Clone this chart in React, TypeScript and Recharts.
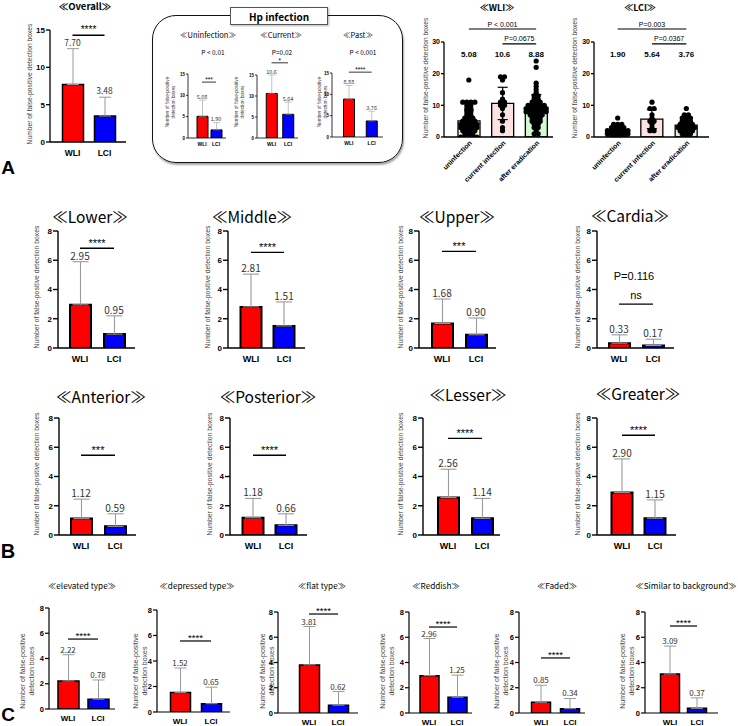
import React from 'react';
import {
  BarChart, ComposedChart, Bar, Scatter, XAxis, YAxis, ErrorBar, Cell, ReferenceLine, ReferenceDot,
} from 'recharts';

const SANS = '"Liberation Sans", Arial, sans-serif';
const CJK = '"Noto Sans CJK SC", "Noto Sans", sans-serif';

// ---------- data ----------
const ARMS = ['WLI', 'LCI'];
const ARM_FILLS = ['#ff0000', '#0000ff'];

const OVERALL_MEAN = [7.7, 3.48];
const OVERALL_SD = [4.8, 2.52];
const OVERALL_SIG = '****';

const HP_TITLES = ['Uninfection', 'Current', 'Past'];
const HP_P = ['P < 0.01', 'P=0.02', 'P < 0.001'];
const HP_SIG = ['***', '*', '****'];
const HP_WLI = [5.08, 10.6, 8.88];
const HP_LCI = [1.9, 5.64, 3.76];
const HP_WLI_SD = [3.8, 4.4, 3.2];
const HP_LCI_SD = [1.7, 2.9, 2.3];

const HP_STATUS = ['uninfection', 'current infection', 'after eradication'];
const STATUS_FILLS = ['#fdf8d2', '#fde2e2', '#d2f8cf'];

const WLI_STATUS_MEAN = [5.08, 10.6, 8.88];
const WLI_STATUS_SD = [3.4, 5.1, 4.5];
const WLI_UNINF = [18, 11, 11, 11, 11, 10, 10, 9, 9, 8, 8, 7, 7, 6, 6, 6, 5, 5, 5, 5, 4, 4, 4, 4, 4, 3, 3, 3, 3, 3, 2, 2, 2, 2, 1, 1, 1, 0, 0, 0, 0, 0];
const WLI_CURR = [19, 19, 18, 14, 12, 11, 11, 10, 10, 9, 7, 5, 3, 2];
const WLI_ERAD = [24, 22, 17, 16, 15, 14, 13, 13, 12, 12, 11, 11, 11, 10, 10, 10, 10, 10, 9, 9, 9, 9, 9, 9, 8, 8, 8, 8, 8, 8, 7, 7, 7, 7, 6, 6, 6, 5, 5, 5, 4, 4, 3, 3, 2, 1, 1];
const WLI_P = ['P < 0.001', 'P=0.0675'];

const LCI_STATUS_MEAN = [1.9, 5.64, 3.76];
const LCI_STATUS_SD = [1.8, 3.0, 2.4];
const LCI_UNINF = [6, 4, 4, 4, 3, 3, 3, 3, 2, 2, 2, 2, 2, 2, 1, 1, 1, 1, 1, 1, 0, 0, 0, 0];
const LCI_CURR = [11, 9, 9, 7, 6, 5, 5, 4, 3, 2, 2];
const LCI_ERAD = [9, 7, 7, 6, 6, 6, 5, 5, 5, 4, 4, 4, 4, 3, 3, 3, 3, 3, 2, 2, 2, 2, 1, 1, 1, 0, 0];
const LCI_P = ['P=0.003', 'P=0.0367'];

const REGIONS = ['Lower', 'Middle', 'Upper', 'Cardia', 'Anterior', 'Posterior', 'Lesser', 'Greater'];
const REGION_WLI = [2.95, 2.81, 1.68, 0.33, 1.12, 1.18, 2.56, 2.9];
const REGION_LCI = [0.95, 1.51, 0.9, 0.17, 0.59, 0.66, 1.14, 1.15];
const REGION_WLI_SD = [2.95, 2.24, 1.67, 0.57, 1.33, 1.32, 1.94, 2.3];
const REGION_LCI_SD = [1.25, 1.64, 1.15, 0.43, 0.86, 0.79, 1.36, 1.25];
const REGION_SIG = ['****', '****', '***', 'ns', '***', '****', '****', '****'];
const REGION_P = ['', '', '', 'P=0.116', '', '', '', ''];

const LESIONS = ['elevated type', 'depressed type', 'flat type', 'Reddish', 'Faded', 'Similar to background'];
const LESION_WLI = [2.22, 1.52, 3.81, 2.96, 0.85, 3.09];
const LESION_LCI = [0.78, 0.65, 0.62, 1.25, 0.34, 0.37];
const LESION_WLI_SD = [2.08, 1.93, 3.04, 2.94, 1.35, 2.21];
const LESION_LCI_SD = [1.52, 1.3, 1.08, 1.75, 0.81, 0.83];
const LESION_SIG = ['****', '****', '****', '****', '****', '****'];

const Y_TITLE = 'Number of false-positive detection boxes';
const Y_TITLE_2 = ['Number of false-positive', 'detection boxes'];

// ---------- layout ----------
type Frame = { ax: number; y0: number; top: number; end: number; c: number[]; bw: number };

const OVERALL_FRAME: Frame = { ax: 50, y0: 142, top: 30, end: 126, c: [72.5, 104.5], bw: 21 };
const HP_FRAMES: Frame[] = [
  { ax: 188, y0: 138, top: 74, end: 226, c: [202, 216], bw: 11 },
  { ax: 257, y0: 138, top: 75, end: 298, c: [271.5, 288], bw: 11 },
  { ax: 332, y0: 137, top: 73, end: 383, c: [349, 372], bw: 11 },
];
const HP_SIG_AT = [13.1, 17.9, 15.2];
const HP_TITLE_X = [208, 281, 358];
const HP_P_X = [213, 282, 363];
const HP_YLABEL_X = [170.5, 239.5, 322.5];

const WLI_FRAME: Frame = { ax: 444, y0: 137, top: 42, end: 553, c: [469, 503, 537], bw: 22 };
const LCI_FRAME: Frame = { ax: 594, y0: 137, top: 42, end: 709, c: [618, 653, 686], bw: 22 };

const REGION_FRAMES: Frame[] = [
  { ax: 58, y0: 348, top: 231, end: 135, c: [80, 114], bw: 21 },
  { ax: 228, y0: 348, top: 231, end: 305, c: [251, 284], bw: 21 },
  { ax: 419, y0: 348, top: 231, end: 496, c: [442, 476], bw: 21 },
  { ax: 597, y0: 348, top: 231, end: 674, c: [619, 653], bw: 21 },
  { ax: 59, y0: 535, top: 418, end: 136, c: [81, 115], bw: 21 },
  { ax: 230, y0: 535, top: 418, end: 307, c: [253, 286], bw: 21 },
  { ax: 423, y0: 535, top: 418, end: 500, c: [448, 482], bw: 21 },
  { ax: 597, y0: 535, top: 418, end: 676, c: [622, 655], bw: 21 },
];
const REGION_SIG_AT = [6.82, 6.54, 6.61, 3.0, 5.45, 5.45, 6.61, 6.82];
const REGION_TITLE_AT = [[90, 217], [252, 217], [457, 217], [630, 216], [101, 397], [268, 397], [468, 395], [638, 394]];
const REGION_YLABEL_AT = [[37, 287], [208, 287], [401, 287], [578, 287], [37, 474], [210, 474], [401, 474], [578, 474]];

const LESION_FRAMES: Frame[] = [
  { ax: 49, y0: 709, top: 608, end: 115, c: [68, 98], bw: 21 },
  { ax: 157, y0: 712, top: 610, end: 230, c: [180, 211], bw: 20 },
  { ax: 278, y0: 713, top: 612, end: 358, c: [309, 338], bw: 20 },
  { ax: 409, y0: 713, top: 612, end: 472, c: [429, 457], bw: 19 },
  { ax: 519, y0: 713, top: 612, end: 585, c: [541, 570], bw: 19 },
  { ax: 645, y0: 713, top: 612, end: 718, c: [670, 697], bw: 19 },
];
const LESION_SIG_AT = [5.54, 5.57, 7.84, 6.81, 4.36, 6.89];
const LESION_TITLE_X = [82, 197, 322, 436, 557, 686];
const LESION_YLABEL_X = [26.5, 139.5, 267, 387, 501, 627];

const ST_A = { tick: 8, cat: 8.5, val: 8.5, star: 10, cap: 6, barStroke: 1.5, axisW: 1.3, tickSize: 4, tickMargin: 1, catGap: 8, valOffset: 3, starOffset: 2, nsOffset: 5, sigW: 1.3, errW: 1, xh: 18 };
const ST_HP = { tick: 4.5, cat: 5, val: 5.5, star: 6.5, cap: 3.5, barStroke: 1, axisW: 0.8, tickSize: 2, tickMargin: 1, catGap: 4, valOffset: 1.5, starOffset: 0, nsOffset: 3, sigW: 0.8, errW: 0.6, xh: 12 };
const ST_B = { tick: 8, cat: 9, val: 10, star: 11, cap: 8, barStroke: 2, axisW: 1.4, tickSize: 5, tickMargin: 1, catGap: 8, valOffset: 2, starOffset: 1.5, nsOffset: 5, sigW: 1.4, errW: 1.1, xh: 20 };
const ST_C = { tick: 7.5, cat: 8, val: 8, star: 9.5, cap: 6, barStroke: 1.5, axisW: 1.2, tickSize: 4, tickMargin: 1, catGap: 6, valOffset: 2, starOffset: 0, nsOffset: 4, sigW: 1.2, errW: 1, xh: 18 };

const fmt = (v: number) => (v >= 10 ? v.toFixed(1) : v.toFixed(2));

// spread equal values side by side, like a column scatter
function swarm(values: number[], g: number, step: number) {
  const count: Record<number, number> = {};
  const seen: Record<number, number> = {};
  values.forEach((v) => { count[v] = (count[v] || 0) + 1; });
  return values.map((v) => {
    const k = (seen[v] = (seen[v] ?? -1) + 1);
    return { x: g + 0.5 + (k - (count[v] - 1) / 2) * step, y: v };
  });
}

const Txt = ({ x, y, size, children, weight = 400, font = CJK, color = '#000' }: any) => (
  <div style={{ position: 'absolute', left: x, top: y, transform: 'translate(-50%,-50%)', fontSize: size, fontWeight: weight, fontFamily: font, color, whiteSpace: 'nowrap', lineHeight: 1 }}>
    {children}
  </div>
);

const VTxt = ({ x, y, size, lines }: any) => (
  <div style={{ position: 'absolute', left: x, top: y, transform: 'translate(-50%,-50%) rotate(-90deg)', fontSize: size, fontFamily: SANS, color: '#444', whiteSpace: 'nowrap', lineHeight: 1.3, textAlign: 'center' }}>
    {lines.map((l: string) => <div key={l}>{l}</div>)}
  </div>
);

function PairChart({ f, yMax, ticks, means, sds, sig, sigAt, st }: any) {
  const padL = 40, mt = 36, mr = 6;
  const band = f.c[1] - f.c[0];
  const pl = f.c[0] - band / 2 - f.ax;
  const pr = Math.max(0, f.end - (f.c[1] + band / 2));
  const width = padL + (f.end - f.ax) + mr;
  const height = mt + (f.y0 - f.top) + st.xh;
  const data = ARMS.map((name, i) => ({ name, mean: means[i], err: [0, sds[i]] }));
  const tickFont = { fill: '#000', fontSize: st.tick, fontWeight: 700, fontFamily: SANS };
  const axis = { stroke: '#000', strokeWidth: st.axisW };
  return (
    <div style={{ position: 'absolute', left: f.ax - padL, top: f.top - mt }}>
      <BarChart width={width} height={height} data={data} margin={{ top: mt, right: mr, bottom: 0, left: 0 }}>
        <XAxis dataKey="name" interval={0} padding={{ left: pl, right: pr }} height={st.xh} tickLine={false}
          tickSize={st.catGap} tickMargin={0} axisLine={axis} tick={{ ...tickFont, fontSize: st.cat }} />
        <YAxis width={padL} domain={[0, yMax]} ticks={ticks} interval={0} allowDataOverflow tickSize={st.tickSize}
          tickMargin={st.tickMargin} axisLine={axis} tickLine={axis} tick={tickFont} />
        <Bar dataKey="mean" barSize={f.bw} stroke="#000" strokeWidth={st.barStroke} isAnimationActive={false}>
          {data.map((d, i) => <Cell key={d.name} fill={ARM_FILLS[i]} />)}
          <ErrorBar dataKey="err" direction="y" width={st.cap} stroke="#9a9a9a" strokeWidth={st.errW} isAnimationActive={false} />
        </Bar>
        <ReferenceLine segment={[{ x: ARMS[0], y: sigAt }, { x: ARMS[1], y: sigAt }]} stroke="#000" strokeWidth={st.sigW} ifOverflow="visible"
          label={{ value: sig, position: 'top', offset: sig === 'ns' ? st.nsOffset : st.starOffset, fill: '#000', fontSize: st.star, fontFamily: SANS }} />
        {data.map((d, i) => (
          <ReferenceDot key={d.name} x={d.name} y={means[i] + sds[i]} r={0} fill="none" stroke="none" ifOverflow="visible"
            label={{ value: fmt(means[i]), position: 'top', offset: st.valOffset, fill: '#333', fontSize: st.val, fontFamily: CJK }} />
        ))}
      </BarChart>
    </div>
  );
}

const dot = (p: any) => <circle cx={p.cx} cy={p.cy} r={2.6} fill="#000" />;

function StatusChart({ f, means, sds, groups, pLabels }: any) {
  const svgTop = 14, svgBottom = 192, mr = 4, yW = 40;
  const band = f.c[1] - f.c[0];
  const pl = f.c[0] - band / 2 - f.ax;
  const pr = Math.max(0, f.end - (f.c[2] + band / 2));
  const data = HP_STATUS.map((name, i) => ({ name, mean: means[i], sd: sds[i] }));
  const pts = groups.flatMap((vals: number[], g: number) => swarm(vals, g, 0.12));
  const axis = { stroke: '#000', strokeWidth: 1.3 };
  const level = [34.1, 29.4];
  return (
    <div style={{ position: 'absolute', left: f.ax - yW - 12, top: svgTop }}>
      <ComposedChart width={f.end - f.ax + yW + 12 + mr} height={svgBottom - svgTop} data={data}
        margin={{ top: f.top - svgTop, right: mr, bottom: 0, left: 12 }}>
        <XAxis xAxisId="cat" dataKey="name" interval={0} padding={{ left: pl, right: pr }} height={svgBottom - f.y0}
          tickLine={false} tickSize={3} tickMargin={0} axisLine={axis}
          tick={{ angle: -45, textAnchor: 'end', fontSize: 7, fontWeight: 700, fill: '#000', fontFamily: SANS }} />
        <XAxis xAxisId="num" type="number" dataKey="x" domain={[0, 3]} allowDataOverflow padding={{ left: pl, right: pr }} hide />
        <YAxis width={yW} domain={[0, 30]} ticks={[0, 10, 20, 30]} interval={0} allowDataOverflow tickSize={3} tickMargin={1}
          axisLine={axis} tickLine={axis} tick={{ fill: '#000', fontSize: 7, fontWeight: 700, fontFamily: SANS }} />
        <Bar xAxisId="cat" dataKey="mean" barSize={f.bw} stroke="#000" strokeWidth={1.3} isAnimationActive={false}>
          {data.map((d, i) => <Cell key={d.name} fill={STATUS_FILLS[i]} />)}
          <ErrorBar dataKey="sd" direction="y" width={5} stroke="#000" strokeWidth={1.2} isAnimationActive={false} />
        </Bar>
        <Scatter xAxisId="num" data={pts} dataKey="y" shape={dot} isAnimationActive={false} />
        <ReferenceLine xAxisId="cat" segment={[{ x: HP_STATUS[0], y: level[0] }, { x: HP_STATUS[2], y: level[0] }]}
          stroke="#000" strokeWidth={1.2} ifOverflow="visible"
          label={{ value: pLabels[0], position: 'top', offset: 2.5, fill: '#000', fontSize: 7, fontFamily: SANS }} />
        <ReferenceLine xAxisId="cat" segment={[{ x: HP_STATUS[1], y: level[1] }, { x: HP_STATUS[2], y: level[1] }]}
          stroke="#000" strokeWidth={1.2} ifOverflow="visible"
          label={{ value: pLabels[1], position: 'top', offset: 2.5, fill: '#000', fontSize: 7, fontFamily: SANS }} />
        {data.map((d, i) => (
          <ReferenceDot key={d.name} xAxisId="cat" x={d.name} y={26.2} r={0} fill="none" stroke="none" ifOverflow="visible"
            label={{ value: fmt(means[i]), position: 'center', fill: '#000', fontSize: 8, fontWeight: 700, fontFamily: SANS }} />
        ))}
      </ComposedChart>
    </div>
  );
}

export default function App() {
  return (
    <div style={{ position: 'absolute', left: 0, top: 0, width: 738, height: 726, background: '#fff', overflow: 'hidden' }}>
      {/* A: overall */}
      <Txt x={85} y={7} size={9.5} weight={700}>≪Overall≫</Txt>
      <VTxt x={30} y={84} size={6.7} lines={[Y_TITLE]} />
      <PairChart f={OVERALL_FRAME} yMax={15} ticks={[0, 5, 10, 15]} means={OVERALL_MEAN} sds={OVERALL_SD}
        sig={OVERALL_SIG} sigAt={14.3} st={ST_A} />

      {/* A: Hp infection box */}
      <div style={{ position: 'absolute', left: 152, top: 15, width: 251, height: 148, border: '1.3px solid #111', borderRadius: 24, boxShadow: '1px 2px 2px rgba(0,0,0,0.35)', boxSizing: 'border-box' }} />
      <div style={{ position: 'absolute', left: 230, top: 7, width: 98, height: 18, background: '#fff', border: '1px solid #555', boxShadow: '1px 1px 2px rgba(0,0,0,0.3)', boxSizing: 'border-box', display: 'flex', alignItems: 'center', justifyContent: 'center', fontFamily: CJK, fontWeight: 700, fontSize: 10 }}>
        Hp infection
      </div>
      {HP_TITLES.map((t, i) => (
        <React.Fragment key={t}>
          <Txt x={HP_TITLE_X[i]} y={35} size={7.5}>≪{t}≫</Txt>
          <Txt x={HP_P_X[i]} y={52} size={6.5}>{HP_P[i]}</Txt>
          <VTxt x={HP_YLABEL_X[i]} y={102} size={4.7} lines={Y_TITLE_2} />
          <PairChart f={HP_FRAMES[i]} yMax={15} ticks={[0, 5, 10, 15]} means={[HP_WLI[i], HP_LCI[i]]}
            sds={[HP_WLI_SD[i], HP_LCI_SD[i]]} sig={HP_SIG[i]} sigAt={HP_SIG_AT[i]} st={ST_HP} />
        </React.Fragment>
      ))}

      {/* A: WLI / LCI by Hp status */}
      <Txt x={497} y={7} size={9} weight={700}>≪WLI≫</Txt>
      <VTxt x={426} y={78} size={6.7} lines={[Y_TITLE]} />
      <StatusChart f={WLI_FRAME} means={WLI_STATUS_MEAN} sds={WLI_STATUS_SD} groups={[WLI_UNINF, WLI_CURR, WLI_ERAD]} pLabels={WLI_P} />
      <Txt x={640} y={7} size={9} weight={700}>≪LCI≫</Txt>
      <VTxt x={575} y={78} size={6.7} lines={[Y_TITLE]} />
      <StatusChart f={LCI_FRAME} means={LCI_STATUS_MEAN} sds={LCI_STATUS_SD} groups={[LCI_UNINF, LCI_CURR, LCI_ERAD]} pLabels={LCI_P} />
      <Txt x={8} y={167} size={19} weight={700} font={SANS}>A</Txt>

      {/* B: regions */}
      {REGIONS.map((r, i) => (
        <React.Fragment key={r}>
          <Txt x={REGION_TITLE_AT[i][0]} y={REGION_TITLE_AT[i][1]} size={15.5}>≪{r}≫</Txt>
          <VTxt x={REGION_YLABEL_AT[i][0]} y={REGION_YLABEL_AT[i][1]} size={6.8} lines={[Y_TITLE]} />
          {REGION_P[i] && <Txt x={634} y={276} size={11} font={SANS}>{REGION_P[i]}</Txt>}
          <PairChart f={REGION_FRAMES[i]} yMax={8} ticks={[0, 2, 4, 6, 8]} means={[REGION_WLI[i], REGION_LCI[i]]}
            sds={[REGION_WLI_SD[i], REGION_LCI_SD[i]]} sig={REGION_SIG[i]} sigAt={REGION_SIG_AT[i]} st={ST_B} />
        </React.Fragment>
      ))}
      <Txt x={8} y={551} size={20} weight={700} font={SANS}>B</Txt>

      {/* C: lesion types */}
      {LESIONS.map((l, i) => (
        <React.Fragment key={l}>
          <Txt x={LESION_TITLE_X[i]} y={585} size={8.2}>≪{l}≫</Txt>
          <VTxt x={LESION_YLABEL_X[i]} y={671} size={7} lines={Y_TITLE_2} />
          <PairChart f={LESION_FRAMES[i]} yMax={8} ticks={[0, 2, 4, 6, 8]} means={[LESION_WLI[i], LESION_LCI[i]]}
            sds={[LESION_WLI_SD[i], LESION_LCI_SD[i]]} sig={LESION_SIG[i]} sigAt={LESION_SIG_AT[i]} st={ST_C} />
        </React.Fragment>
      ))}
      <Txt x={8} y={714} size={19} weight={700} font={SANS}>C</Txt>
    </div>
  );
}
